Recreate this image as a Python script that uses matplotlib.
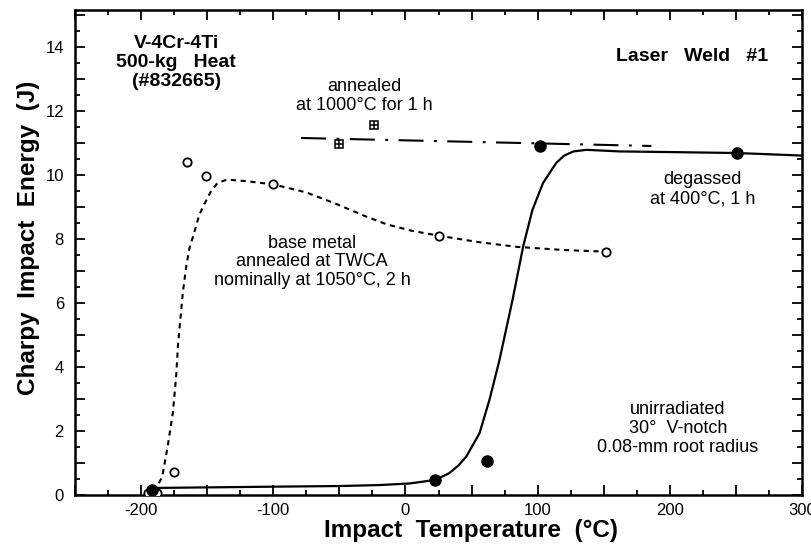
import matplotlib.pyplot as plt
from matplotlib.ticker import MultipleLocator, FuncFormatter

plt.rcParams["font.family"] = ["Liberation Sans", "DejaVu Sans"]

# base metal, annealed at TWCA (open circles + dashed trend)
base_temp = [-195, -188, -175, -165, -151, -100, 25, 152]
base_energy = [0.05, 0.05, 0.72, 10.4, 9.95, 9.7, 8.1, 7.6]
base_fit_temp = [-190, -184, -180, -176, -173.5, -172, -170.5, -168.5, -166, -163.5,
                 -160.5, -156, -152, -147, -142, -135, -120, -100, -75, -53,
                 -30, -14, 5, 25, 55, 84, 120, 152]
base_fit_energy = [0.1, 0.57, 1.5, 2.56, 3.7, 4.75, 5.4, 6.3, 7.1, 7.7,
                   8.1, 8.75, 9.1, 9.5, 9.75, 9.85, 9.8, 9.7, 9.45, 9.1,
                   8.7, 8.45, 8.25, 8.1, 7.9, 7.75, 7.65, 7.6]

# degassed at 400 C (filled circles + solid trend)
degas_temp = [-192, 22.5, 62, 101.5, 250.5]
degas_energy = [0.15, 0.47, 1.05, 10.9, 10.68]
degas_fit_temp = [-190, -100, -50, -20, 3, 22.5, 33, 40, 46, 56, 63.5, 71, 81, 89,
                  96, 104, 114, 120, 127, 137, 162, 200, 251, 300]
degas_fit_energy = [0.22, 0.26, 0.28, 0.31, 0.36, 0.47, 0.68, 0.92, 1.2, 1.93, 2.97, 4.2, 6.1, 7.76,
                    8.9, 9.74, 10.37, 10.6, 10.73, 10.78, 10.73, 10.71, 10.68, 10.6]

# annealed at 1000 C for 1 h (boxed plus + dash-dot trend)
anneal_temp = [-50, -23.5]
anneal_energy = [10.97, 11.57]
anneal_fit_temp = [-79, 186]
anneal_fit_energy = [11.15, 10.9]

fig = plt.figure(figsize=(8.11, 5.5), dpi=100)
ax = fig.add_axes([0.0925, 0.1, 0.8965, 0.882])

ax.plot(base_fit_temp, base_fit_energy, color="k", lw=1.5, dashes=(2.5, 2.2))
ax.plot(degas_fit_temp, degas_fit_energy, color="k", lw=1.6)
ax.plot(anneal_fit_temp, anneal_fit_energy, color="k", lw=1.5, dashes=(12, 5, 1.4, 5))

ax.plot(base_temp, base_energy, "o", ms=6, mfc="white", mec="k", mew=1.3, zorder=4)
ax.plot(degas_temp, degas_energy, "o", ms=8, mfc="k", mec="k", zorder=5)
ax.plot(anneal_temp, anneal_energy, "s", ms=6, mfc="white", mec="k", mew=1.1, zorder=4)
ax.plot(anneal_temp, anneal_energy, "+", ms=6, mec="k", mew=1.1, zorder=5)

ax.set_xlim(-250, 300)
ax.set_ylim(0, 15.15)

ax.xaxis.set_major_locator(MultipleLocator(50))
ax.xaxis.set_minor_locator(MultipleLocator(25))
ax.yaxis.set_major_locator(MultipleLocator(1))
ax.yaxis.set_minor_locator(MultipleLocator(0.5))
ax.xaxis.set_major_formatter(FuncFormatter(lambda v, p: f"{v:.0f}" if v % 100 == 0 else ""))
ax.yaxis.set_major_formatter(FuncFormatter(lambda v, p: f"{v:.0f}" if v % 2 == 0 else ""))
ax.tick_params(which="both", direction="in", top=True, right=True, width=1.3, labelsize=12)
ax.tick_params(which="major", length=7)
ax.tick_params(which="minor", length=3.5)
ax.tick_params(axis="x", pad=6)
ax.tick_params(axis="y", pad=8)
for s in ax.spines.values():
    s.set_linewidth(1.8)

ax.set_xlabel("Impact  Temperature  (°C)", fontsize=17.5, fontweight="bold")
ax.set_ylabel("Charpy  Impact  Energy  (J)", fontsize=17.5, fontweight="bold")
ax.xaxis.set_label_coords(0.545, -0.05)
ax.yaxis.set_label_coords(-0.048, 0.53)

ax.text(-173.5, 13.5, "V-4Cr-4Ti\n500-kg   Heat\n(#832665)", ha="center", va="center",
        fontsize=14, fontweight="bold", linespacing=1.15)
ax.text(217, 13.7, "Laser   Weld   #1", ha="center", va="center", fontsize=14, fontweight="bold")
ax.text(-31, 12.47, "annealed\nat 1000°C for 1 h", ha="center", va="center", fontsize=13,
        linespacing=1.15)
ax.text(-70.5, 7.28, "base metal\nannealed at TWCA\nnominally at 1050°C, 2 h", ha="center",
        va="center", fontsize=13, linespacing=1.1)
ax.text(225, 9.55, "degassed\nat 400°C, 1 h", ha="center", va="center", fontsize=13,
        linespacing=1.15)
ax.text(206, 2.08, "unirradiated\n30°  V-notch\n0.08-mm root radius", ha="center",
        va="center", fontsize=13, linespacing=1.15)

fig.savefig("out.png", dpi=100)
